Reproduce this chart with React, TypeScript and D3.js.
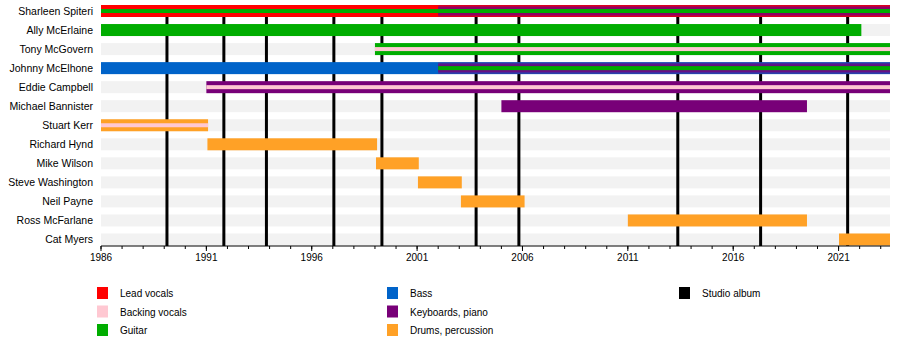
import React from "react";
import * as d3 from "d3";

const members = [
  "Sharleen Spiteri",
  "Ally McErlaine",
  "Tony McGovern",
  "Johnny McElhone",
  "Eddie Campbell",
  "Michael Bannister",
  "Stuart Kerr",
  "Richard Hynd",
  "Mike Wilson",
  "Steve Washington",
  "Neil Payne",
  "Ross McFarlane",
  "Cat Myers",
];

const roles = [
  "Lead vocals",
  "Backing vocals",
  "Guitar",
  "Bass",
  "Keyboards, piano",
  "Drums, percussion",
];

const roleColors: Record<string, string> = {
  "Lead vocals": "#ff0000",
  "Backing vocals": "#ffc8d2",
  Guitar: "#00ad00",
  Bass: "#0063c9",
  "Keyboards, piano": "#780078",
  "Drums, percussion": "#ffa126",
};

const START = 1986;
const END = 2023.44;

// member, role, from, till, rank (1 = primary, 2 = secondary, 3 = tertiary)
const stints: [string, string, number, number, number][] = [
  ["Sharleen Spiteri", "Lead vocals", START, END, 1],
  ["Sharleen Spiteri", "Keyboards, piano", 2002, END, 2],
  ["Sharleen Spiteri", "Guitar", START, END, 3],
  ["Ally McErlaine", "Guitar", START, 2022.08, 1],
  ["Tony McGovern", "Guitar", 1999, END, 1],
  ["Tony McGovern", "Backing vocals", 1999, END, 3],
  ["Johnny McElhone", "Bass", START, END, 1],
  ["Johnny McElhone", "Keyboards, piano", 2002, END, 2],
  ["Johnny McElhone", "Guitar", 2002, END, 3],
  ["Eddie Campbell", "Keyboards, piano", 1991, END, 1],
  ["Eddie Campbell", "Backing vocals", 1991, END, 3],
  ["Michael Bannister", "Keyboards, piano", 2005, 2019.5, 1],
  ["Stuart Kerr", "Drums, percussion", START, 1991.08, 1],
  ["Stuart Kerr", "Backing vocals", START, 1991.08, 3],
  ["Richard Hynd", "Drums, percussion", 1991.05, 1999.1, 1],
  ["Mike Wilson", "Drums, percussion", 1999.05, 2001.08, 1],
  ["Steve Washington", "Drums, percussion", 2001.04, 2003.12, 1],
  ["Neil Payne", "Drums, percussion", 2003.08, 2006.1, 1],
  ["Ross McFarlane", "Drums, percussion", 2011.0, 2019.5, 1],
  ["Cat Myers", "Drums, percussion", 2021.02, END, 1],
];

// Studio album release dates
const albums = [
  1989.13, 1991.83, 1993.85, 1997.05, 1999.33, 2003.8, 2005.83, 2013.37,
  2017.3, 2021.43,
];

const majorTicks = [1986, 1991, 1996, 2001, 2006, 2011, 2016, 2021];

const legendItems: [string, string][] = [
  ["Lead vocals", "#ff0000"],
  ["Backing vocals", "#ffc8d2"],
  ["Guitar", "#00ad00"],
  ["Bass", "#0063c9"],
  ["Keyboards, piano", "#780078"],
  ["Drums, percussion", "#ffa126"],
  ["Studio album", "#000000"],
];

const W = 900;
const H = 345;
const FONT = "'Liberation Sans', Arial, Helvetica, sans-serif";

export default function App() {
  const x = d3.scaleLinear().domain([START, END]).range([101, 890]);
  const y = d3
    .scalePoint<string>()
    .domain(members)
    .range([11, 239.5]);
  const axisY = 246;
  const barH = 12;

  const minorTicks = d3.range(1986, 2024);

  const legendPos = (i: number) => {
    const col = i < 3 ? 0 : i < 6 ? 1 : 2;
    const row = col === 2 ? i - 6 : i % 3;
    const colX = [97, 387, 679][col];
    return { x: colX, y: 287 + row * 18.5 };
  };

  return (
    <svg
      width={W}
      height={H}
      style={{ position: "absolute", left: 0, top: 0, background: "#fff" }}
      fontFamily={FONT}
    >
      <rect x={0} y={0} width={W} height={H} fill="#fff" />
      {/* row stripes */}
      {members.map((m) => (
        <rect
          key={"bg" + m}
          x={x(START)}
          y={(y(m) as number) - barH / 2}
          width={x(END) - x(START)}
          height={barH}
          fill="#f2f2f2"
        />
      ))}
      {/* album lines */}
      {albums.map((a, i) => (
        <line
          key={"al" + i}
          x1={x(a)}
          x2={x(a)}
          y1={5}
          y2={axisY}
          stroke="#000"
          strokeWidth={3}
        />
      ))}
      {/* bars */}
      {stints.map(([m, r, f, t, rank], i) => {
        const cy = y(m) as number;
        const x0 = x(f);
        const w = x(t) - x(f);
        const c = roleColors[r];
        if (rank === 1) {
          return (
            <rect key={"b" + i} x={x0} y={cy - 6} width={w} height={12} fill={c} />
          );
        }
        if (rank === 2) {
          return (
            <g key={"b" + i}>
              <rect x={x0} y={cy - 5.5} width={w} height={11} fill={c} opacity={0.55} />
              <rect x={x0} y={cy - 3.8} width={w} height={7.6} fill={c} opacity={0.7} />
            </g>
          );
        }
        return (
          <rect key={"b" + i} x={x0} y={cy - 2} width={w} height={4} fill={c} />
        );
      })}
      {/* member labels */}
      {members.map((m) => (
        <text
          key={"l" + m}
          x={93}
          y={(y(m) as number) + 3.7}
          textAnchor="end"
          fontSize={10.5}
          fill="#000"
        >
          {m}
        </text>
      ))}
      {/* axis */}
      <line x1={x(START)} x2={x(END)} y1={axisY} y2={axisY} stroke="#000" strokeWidth={1} />
      {minorTicks.map((t) => (
        <line
          key={"mt" + t}
          x1={x(t)}
          x2={x(t)}
          y1={axisY}
          y2={axisY + 3}
          stroke="#000"
          strokeWidth={1}
        />
      ))}
      {majorTicks.map((t) => (
        <g key={"MT" + t}>
          <line x1={x(t)} x2={x(t)} y1={axisY} y2={axisY + 5} stroke="#000" strokeWidth={1} />
          <text x={x(t)} y={axisY + 15} textAnchor="middle" fontSize={10} fill="#000">
            {t}
          </text>
        </g>
      ))}
      {/* legend */}
      {legendItems.map(([name, col], i) => {
        const p = legendPos(i);
        return (
          <g key={"lg" + name}>
            <rect x={p.x} y={p.y} width={11} height={12} fill={col} />
            <text x={p.x + 23} y={p.y + 10} fontSize={10} fill="#000">
              {name}
            </text>
          </g>
        );
      })}
    </svg>
  );
}
